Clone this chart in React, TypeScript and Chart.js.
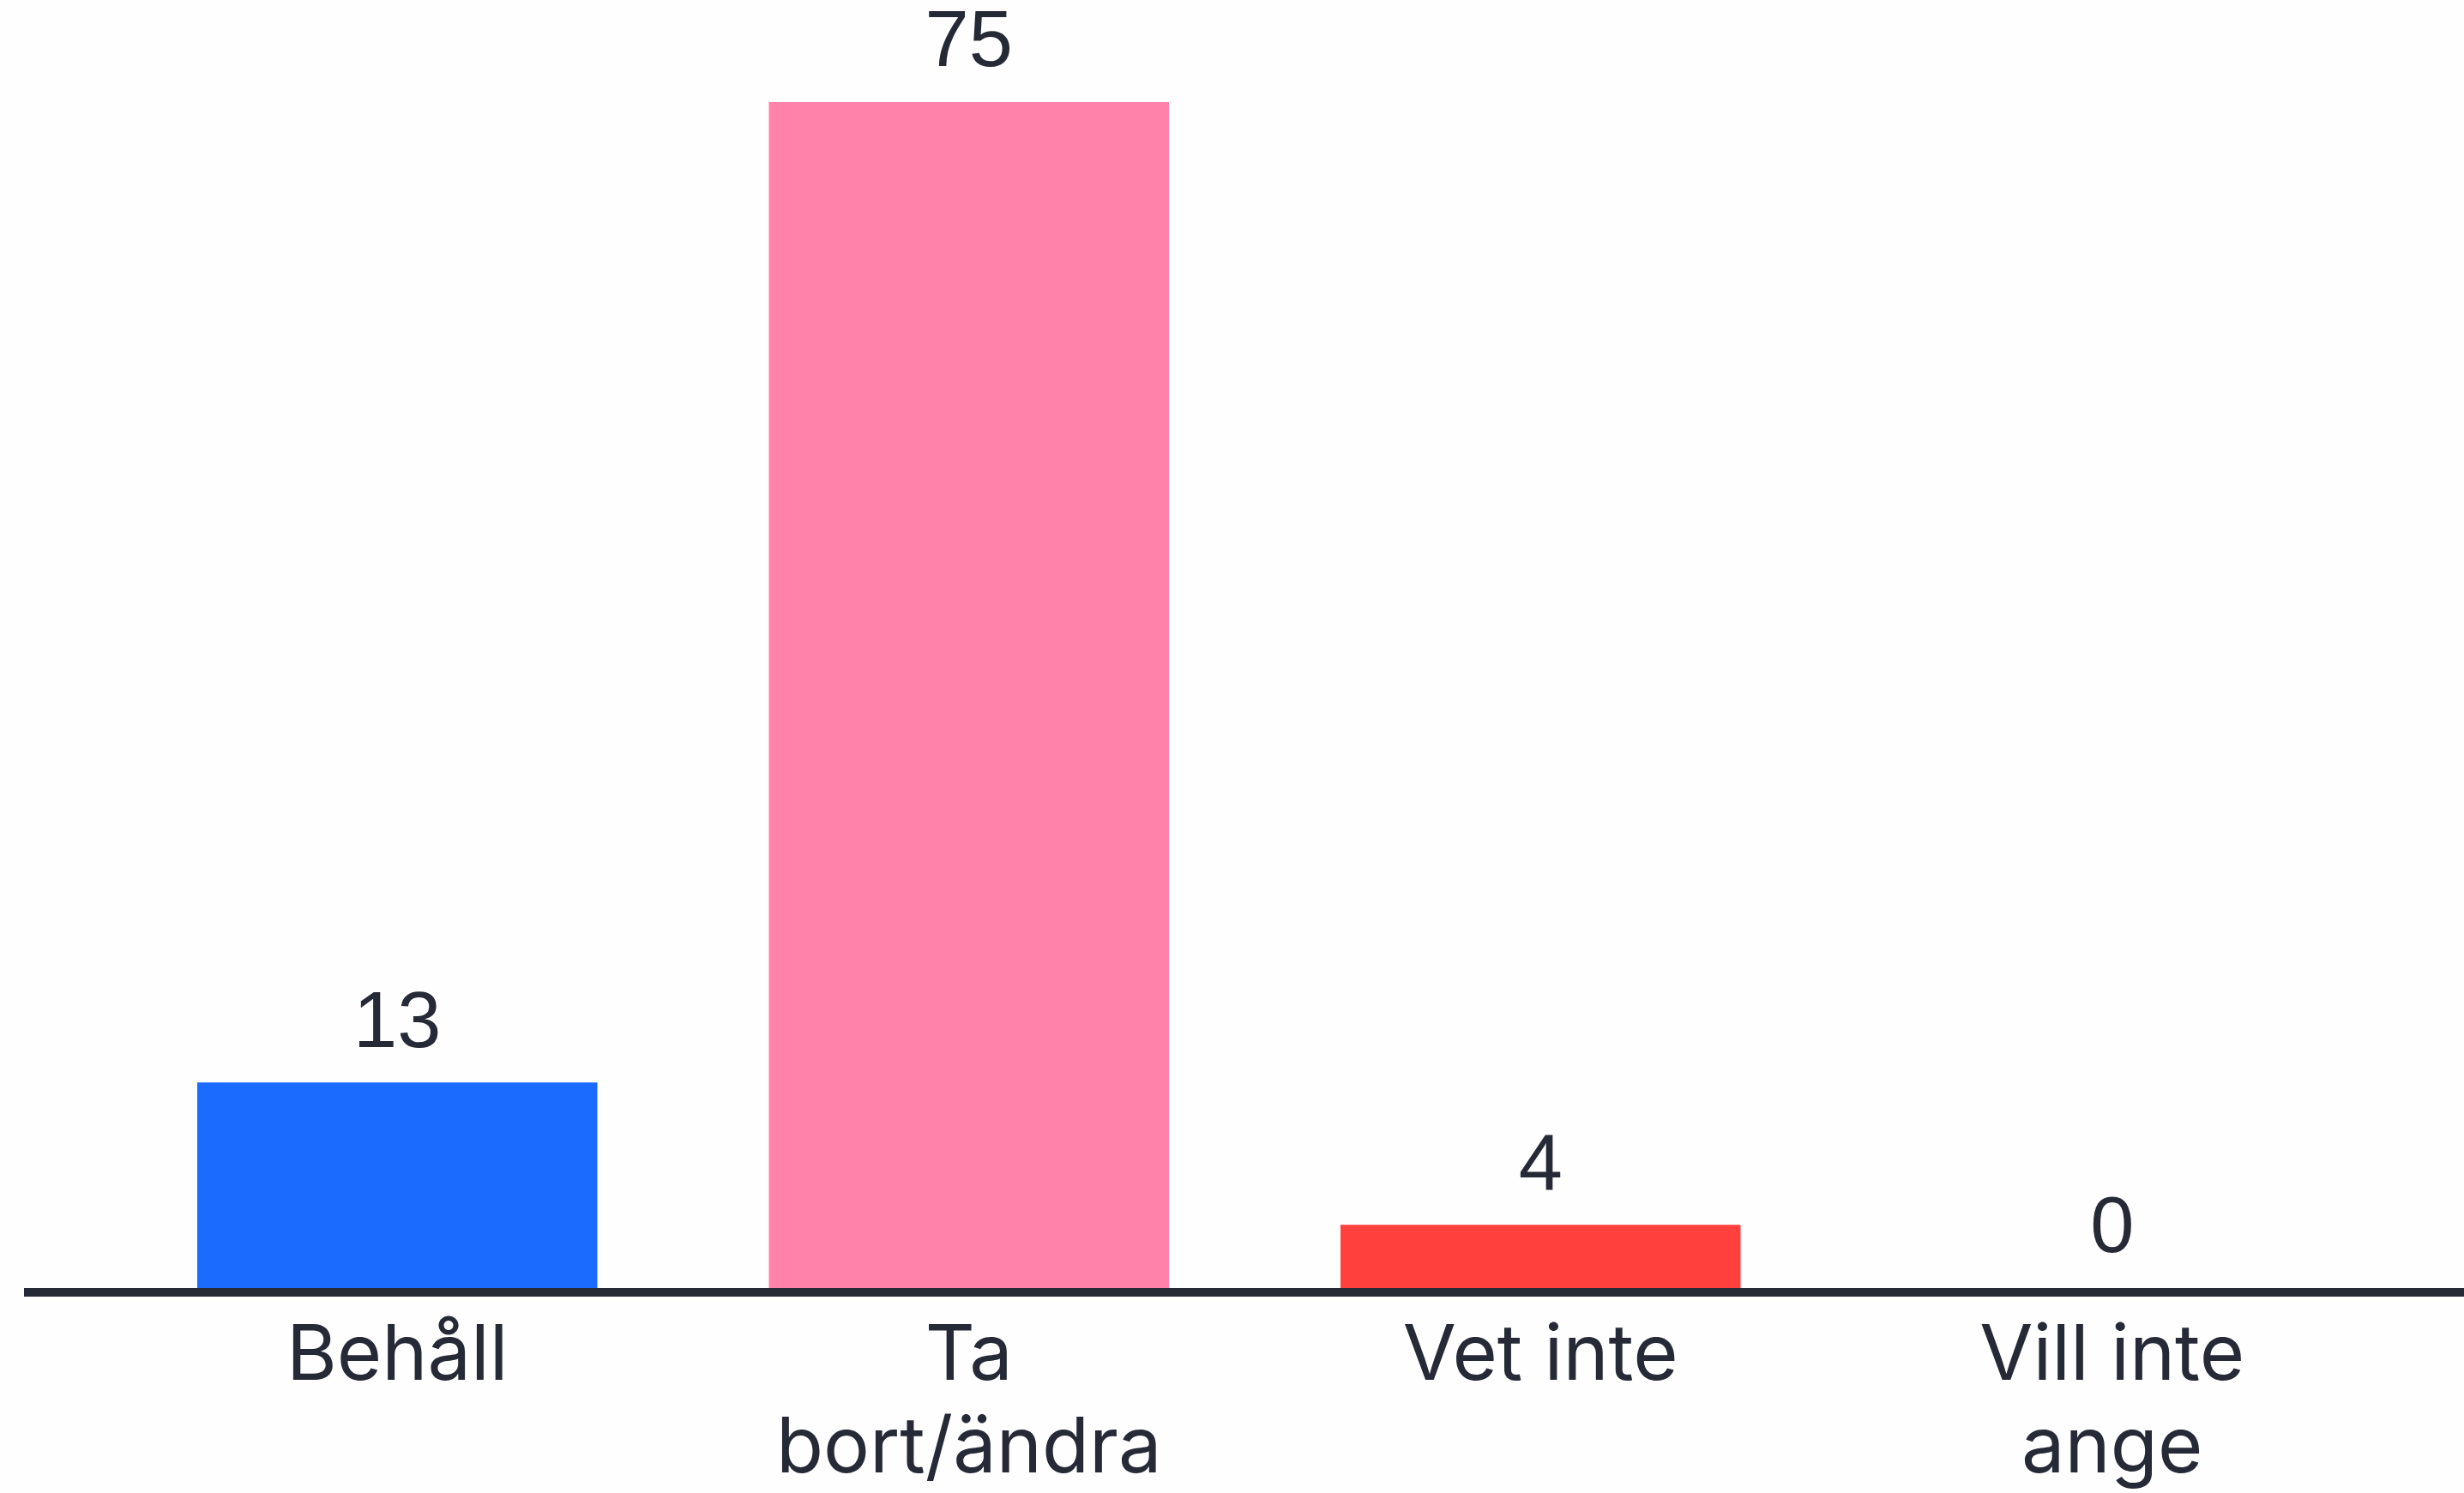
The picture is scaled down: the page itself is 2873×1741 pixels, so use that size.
import React, { useEffect, useRef } from "react";
import { Chart, registerables } from "chart.js";

Chart.register(...registerables);

const categories: (string | string[])[] = ["Behåll", ["Ta", "bort/ändra"], "Vet inte", ["Vill inte", "ange"]];
const values: number[] = [13, 75, 4, 0];
const barColors: string[] = ["#1c6bff", "#ff82aa", "#ff403c", "#9a9a9a"];

const TEXT_COLOR = "#262a37";
const VALUE_FONT = "'Liberation Sans', Arial, sans-serif";
const LABEL_FONT = "Inter, 'Liberation Sans', sans-serif";

const valueLabelPlugin = {
  id: "valueLabels",
  afterDatasetsDraw(chart: any) {
    const ctx = chart.ctx;
    const meta = chart.getDatasetMeta(0);
    ctx.save();
    ctx.fillStyle = TEXT_COLOR;
    ctx.font = `92px ${VALUE_FONT}`;
    ctx.textAlign = "center";
    ctx.textBaseline = "middle";
    meta.data.forEach((bar: any, i: number) => {
      ctx.fillText(String(values[i]), bar.x, bar.y - 67);
    });
    ctx.restore();
  },
};

const axisLinePlugin = {
  id: "axisLine",
  afterDatasetsDraw(chart: any) {
    const ctx = chart.ctx;
    const y0 = chart.scales.y.getPixelForValue(0);
    ctx.save();
    ctx.strokeStyle = TEXT_COLOR;
    ctx.lineWidth = 10;
    ctx.beginPath();
    ctx.moveTo(28, y0 + 5);
    ctx.lineTo(chart.width, y0 + 5);
    ctx.stroke();
    ctx.restore();
  },
};

export default function App() {
  const canvasRef = useRef<HTMLCanvasElement | null>(null);

  useEffect(() => {
    if (!canvasRef.current) return;
    const chart = new Chart(canvasRef.current, {
      type: "bar",
      data: {
        labels: categories,
        datasets: [
          {
            data: values,
            backgroundColor: barColors,
            borderWidth: 0,
            barPercentage: 0.7,
            categoryPercentage: 1,
          },
        ],
      },
      options: {
        animation: false,
        responsive: false,
        maintainAspectRatio: false,
        layout: { padding: { left: 130, right: 77, top: 119, bottom: 0 } },
        plugins: {
          legend: { display: false },
          tooltip: { enabled: false },
          title: { display: false },
        },
        scales: {
          x: {
            grid: { display: false, drawTicks: false },
            border: { display: false },
            ticks: {
              color: TEXT_COLOR,
              font: { family: LABEL_FONT, size: 90, lineHeight: 1.21 },
              padding: 25,
              maxRotation: 0,
              autoSkip: false,
            },
            afterFit: (scale: any) => {
              scale.height = 239;
            },
          },
          y: {
            display: false,
            min: 0,
            max: 75,
          },
        },
      },
      plugins: [valueLabelPlugin, axisLinePlugin],
    });
    return () => chart.destroy();
  }, []);

  return (
    <div style={{ position: "fixed", left: 0, top: 0, width: 2873, height: 1741, background: "#fefefe" }}>
      <canvas ref={canvasRef} width={2873} height={1741} style={{ width: 2873, height: 1741, display: "block" }} />
    </div>
  );
}
